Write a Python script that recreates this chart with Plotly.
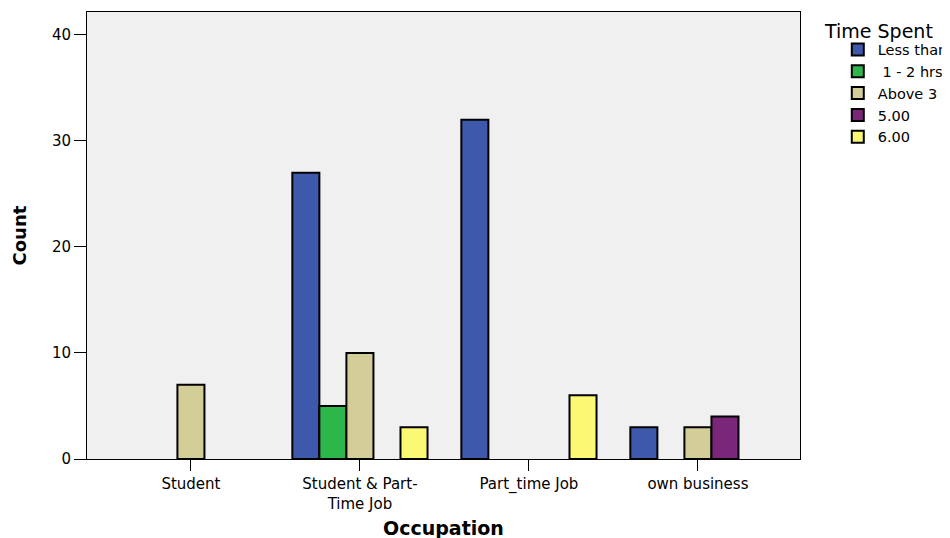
import plotly.graph_objects as go

categories = ["Student", "Student & Part-<br>Time Job", "Part_time Job", "own business"]
series_names = ["Less than 1 hr", " 1 - 2 hrs", "Above 3 hrs", "5.00", "6.00"]
less_than = [None, 27, 32, 3]
one_two = [None, 5, None, None]
above_three = [7, 10, None, 3]
five = [None, None, None, 4]
six = [None, 3, 6, None]
colors = ["#3e58ac", "#2db74a", "#d3ce97", "#7b2779", "#fbf873"]

fig = go.Figure()
for name, vals, col in zip(series_names, [less_than, one_two, above_three, five, six], colors):
    fig.add_trace(go.Bar(x=categories, y=vals, name=name,
                         marker=dict(color=col, line=dict(color="black", width=2))))

font = "DejaVu Sans, sans-serif"
fig.update_layout(
    width=942, height=530,
    barmode="group", bargap=0.2, bargroupgap=0,
    paper_bgcolor="white", plot_bgcolor="#f0f0f0",
    margin=dict(l=79, r=150, t=4, b=79, autoexpand=False),
    font=dict(family=font, size=15, color="black"),
    legend=dict(x=1.053, y=0.952, xanchor="left", yanchor="top",
                font=dict(size=14.5), bgcolor="rgba(0,0,0,0)", tracegroupgap=0,
                itemsizing="constant"),
    annotations=[
        dict(text="Time Spent", xref="paper", yref="paper", x=1.031, y=0.9575,
             xanchor="left", yanchor="middle", showarrow=False,
             font=dict(size=19, family=font)),
        dict(text="<b>Count</b>", xref="paper", yref="paper", x=-0.094, y=0.5,
             xanchor="center", yanchor="middle", textangle=-90, showarrow=False,
             font=dict(size=18, family=font)),
        dict(text="<b>Occupation</b>", xref="paper", yref="paper", x=0.5, y=-0.154,
             xanchor="center", yanchor="middle", showarrow=False,
             font=dict(size=19, family=font)),
    ],
)
fig.update_xaxes(range=[-0.615, 3.604], showline=True, linecolor="black", linewidth=1, mirror=True,
                 ticks="outside", ticklen=11, tickcolor="black", showgrid=False,
                 tickfont=dict(size=15))
fig.update_yaxes(range=[0, 42.15], tickvals=[0, 10, 20, 30, 40], showline=True, linecolor="black",
                 linewidth=1, mirror=True,
                 ticks="outside", ticklen=12, tickcolor="black", showgrid=False, zeroline=False,
                 tickfont=dict(size=15))
fig.write_html("out.html")
